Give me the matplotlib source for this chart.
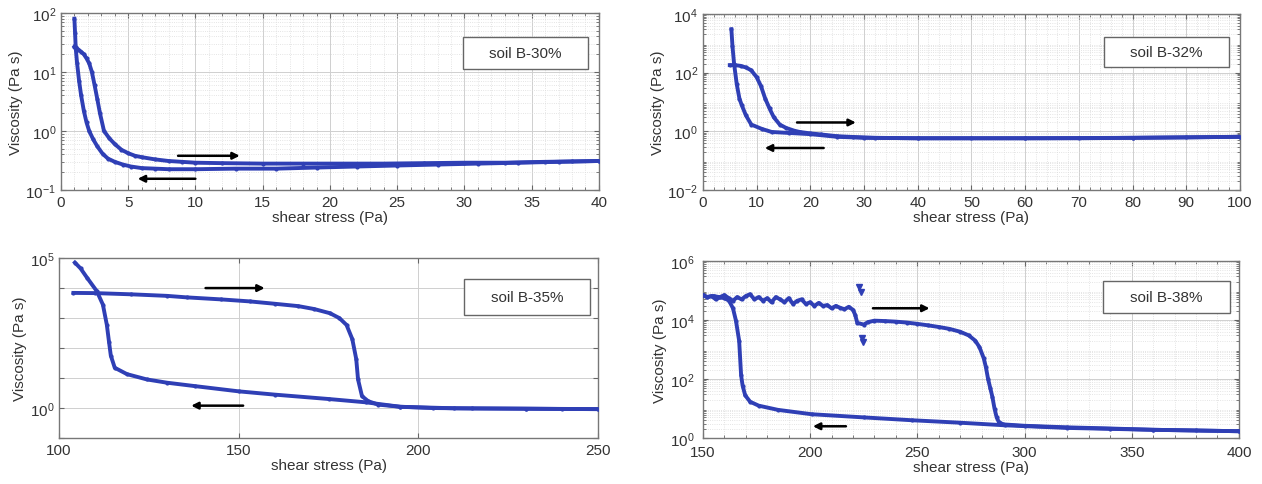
import math
import matplotlib
matplotlib.use("Agg")
import matplotlib.pyplot as plt
from matplotlib.ticker import MultipleLocator, LogLocator, FixedLocator, NullFormatter

plt.rcParams['font.family'] = ['Liberation Sans', 'DejaVu Sans']
plt.rcParams['mathtext.default'] = 'regular'

# ---------------- data ----------------
# soil B-30%
p1_fwd_x = [1.0, 1.1, 1.3, 1.5, 1.7, 1.9, 2.1, 2.3, 2.5, 2.7, 2.9, 3.2, 3.6, 4.0, 4.5, 5.0, 5.5, 6.0, 7.0, 8.0,
            9.0, 10, 12, 15, 18, 21, 24, 27, 30, 33, 36, 38, 40]
p1_fwd_y = [27, 26, 24, 22, 20, 17, 14, 10, 6, 3.5, 2, 1.0, 0.75, 0.6, 0.48, 0.42, 0.38, 0.36, 0.33, 0.31,
            0.3, 0.29, 0.285, 0.28, 0.28, 0.28, 0.28, 0.285, 0.29, 0.29, 0.3, 0.305, 0.31]
p1_bwd_x = [40, 37, 34, 31, 28, 25, 22, 19, 16, 13, 10, 8, 7, 6, 5.2, 4.6, 4.0, 3.5, 3.1, 2.7, 2.4, 2.1,
            1.9, 1.7, 1.5, 1.35, 1.2, 1.1, 1.05, 1.0]
p1_bwd_y = [0.31, 0.3, 0.29, 0.28, 0.27, 0.26, 0.25, 0.24, 0.23, 0.23, 0.225, 0.225, 0.23, 0.235, 0.25, 0.27,
            0.3, 0.34, 0.41, 0.55, 0.72, 1.0, 1.4, 2.2, 4, 7, 14, 25, 45, 80]

# soil B-32%
p2_fwd_x = [5, 6, 7, 8, 9, 10, 10.8, 11.6, 12.4, 13.2, 14.3, 15.5, 17, 18, 20, 22, 25, 28, 32, 40, 50, 60,
            70, 80, 90, 100]
p2_fwd_y = [180, 180, 170, 150, 120, 70, 35, 13, 6, 3, 1.7, 1.3, 1.05, 0.95, 0.85, 0.78, 0.68, 0.64, 0.6,
            0.58, 0.58, 0.58, 0.58, 0.6, 0.62, 0.65]
p2_bwd_x = [100, 80, 60, 40, 30, 25, 20, 16, 12.8, 11, 9.0, 8.0, 7.2, 6.8, 6.3, 5.8, 5.5, 5.3]
p2_bwd_y = [0.65, 0.6, 0.58, 0.58, 0.6, 0.65, 0.8, 0.88, 0.95, 1.2, 1.7, 3.5, 8, 13, 40, 200, 800, 3000]

# soil B-35%
p3_fwd_x = [104, 110, 120, 130, 135.5, 145, 153, 160, 166.6, 171, 175.4, 178, 180, 181.6, 182.7, 183.2,
            184.3, 186, 188.8, 195, 204, 215, 230, 240, 250]
p3_fwd_y = [6900, 6800, 6200, 5500, 4900, 4200, 3600, 3000, 2500, 2000, 1450, 1000, 590, 200, 43, 9,
            2.5, 1.7, 1.3, 1.1, 1.0, 0.97, 0.95, 0.93, 0.92]
p3_bwd_x = [250, 230, 210, 195, 185.4, 175, 160, 150, 137.7, 130, 124.4, 118.9, 115.5, 114.4, 113.9,
            113.3, 112.2, 110.5, 107.8, 106, 104.4]
p3_bwd_y = [0.92, 0.95, 0.98, 1.1, 1.55, 2.0, 2.8, 3.6, 5.4, 7, 9, 13.5, 22, 56, 160, 590, 2800, 7900,
            22000, 45000, 71000]

# soil B-38%
p4_fwd_x = [150, 152, 154, 156, 158, 160, 162, 164, 166, 168, 170, 172, 174, 176, 178, 180, 182, 184, 186,
            188, 190, 192, 194, 196, 198, 200, 202, 204, 206, 208, 210, 212, 214, 216, 218, 220, 221, 222,
            225, 227, 230, 235, 240, 245, 250, 255, 260, 265, 270, 274, 277, 279, 281, 282, 283, 284, 285,
            286, 287, 288, 290, 300, 320, 340, 360, 380, 400]
p4_fwd_y = [70000, 60000, 65000, 50000, 60000, 70000, 55000, 45000, 60000, 50000, 65000, 75000, 50000,
            60000, 45000, 55000, 40000, 60000, 50000, 40000, 55000, 35000, 45000, 50000, 35000, 40000, 30000,
            38000, 30000, 32000, 25000, 30000, 26000, 23000, 28000, 22000, 15000, 8000,
            7000, 8500, 9500, 9200, 8800, 8200, 7400, 6600, 5800, 5000, 4000, 3000, 2000, 1200, 500, 250,
            100, 50, 25, 10, 5, 3.5, 2.9, 2.6, 2.3, 2.1, 1.9, 1.8, 1.7]
p4_out_x = [223, 223.5, 224, 224.5]
p4_out_y = [130000, 90000, 2500, 1800]
p4_bwd_x = [400, 360, 320, 290.8, 270, 247.6, 225, 200.7, 185, 176, 172, 169.7, 168.5, 167.8, 166.9, 165.4,
            164, 162.2, 160, 157.5, 155, 152, 150]
p4_bwd_y = [1.7, 1.9, 2.2, 2.7, 3.3, 4.0, 5.0, 6.4, 9, 12.5, 17, 28, 60, 135, 1950, 9500, 25000, 45000,
            55000, 60000, 65000, 60000, 70000]

labels = ['soil B-30%', 'soil B-32%', 'soil B-35%', 'soil B-38%']

# ---------------- figure ----------------
fig = plt.figure(figsize=(12.62, 4.85), dpi=100)
pos = [[0.0483, 0.6062, 0.4263, 0.365],
       [0.5570, 0.6062, 0.4255, 0.363],
       [0.0468, 0.0948, 0.4271, 0.371],
       [0.5570, 0.0948, 0.4247, 0.365]]
axes = [fig.add_axes(p) for p in pos]

blue = '#2f3fb5'
txtc = '#333333'


def style(ax, xlim, ylim, xmajor, xminor, yticks, ylabels, minor_grid=True, ypad=3.5):
    ax.set_yscale('log')
    ax.set_xlim(*xlim)
    ax.set_ylim(*ylim)
    ax.xaxis.set_major_locator(MultipleLocator(xmajor))
    ax.yaxis.set_major_locator(FixedLocator(yticks))
    ax.yaxis.set_major_formatter(plt.FuncFormatter(
        lambda v, p: (r'$10^{%d}$' % round(math.log10(v)))
        if any(abs(v - t) < 1e-9 * t for t in ylabels) else ''))
    if minor_grid:
        ax.xaxis.set_minor_locator(MultipleLocator(xminor))
        ax.yaxis.set_minor_locator(LogLocator(base=10, subs=range(2, 10), numticks=50))
        ax.yaxis.set_minor_formatter(NullFormatter())
        ax.grid(True, which='minor', color='#dcdcdc', linestyle=':', linewidth=0.6)
    else:
        ax.yaxis.set_minor_locator(FixedLocator([]))
    ax.grid(True, which='major', color='#cfcfcf', linestyle='-', linewidth=0.7)
    ax.set_axisbelow(True)
    ax.tick_params(which='both', direction='in', top=True, right=True, colors='#666666',
                   labelcolor=txtc, labelsize=11)
    ax.tick_params(axis='y', pad=ypad)
    ax.tick_params(which='minor', length=2)
    for s in ax.spines.values():
        s.set_color('#777777')
        s.set_linewidth(1.0)
    ax.set_xlabel('shear stress (Pa)', fontsize=11, color=txtc, labelpad=1)
    ax.set_ylabel('Viscosity (Pa s)', fontsize=11, color=txtc, labelpad=2)


def curve(ax, x, y):
    ax.plot(x, y, '-', color=blue, lw=2.8, marker='.', ms=4, zorder=3)


def arrow(ax, x0, x1, y):
    ax.annotate('', xy=(x1, y), xytext=(x0, y),
                arrowprops=dict(arrowstyle='-|>', color='black', lw=1.8, mutation_scale=10))


def tag(ax, text, box):
    x0, y0, w, h = box
    ax.add_patch(plt.Rectangle((x0, y0), w, h, transform=ax.transAxes, facecolor='white',
                               edgecolor='#666666', lw=1.0, zorder=5))
    ax.text(x0 + w / 2, y0 + h / 2, text, transform=ax.transAxes, ha='center', va='center',
            fontsize=11, color=txtc, zorder=6)


# panel 1
ax = axes[0]
style(ax, (0, 40), (0.1, 100), 5, 1, [0.1, 1, 10, 100], [0.1, 1, 10, 100])
curve(ax, p1_fwd_x, p1_fwd_y)
curve(ax, p1_bwd_x, p1_bwd_y)
arrow(ax, 8.5, 13.5, 0.38)
arrow(ax, 10.2, 5.5, 0.155)
tag(ax, labels[0], (0.747, 0.684, 0.233, 0.18))

# panel 2
ax = axes[1]
style(ax, (0, 100), (0.01, 1e4), 10, 2, [1e-2, 1, 1e2, 1e4], [1e-2, 1, 1e2, 1e4])
curve(ax, p2_fwd_x, p2_fwd_y)
curve(ax, p2_bwd_x, p2_bwd_y)
arrow(ax, 17, 29, 2.0)
arrow(ax, 23, 11, 0.27)
tag(ax, labels[1], (0.746, 0.70, 0.233, 0.17))

# panel 3
ax = axes[2]
style(ax, (100, 250), (0.1, 1e5), 50, 10, [0.1, 1, 10, 100, 1e3, 1e4, 1e5], [1, 1e5], minor_grid=False)
curve(ax, p3_fwd_x, p3_fwd_y)
curve(ax, p3_bwd_x, p3_bwd_y)
arrow(ax, 140, 158, 1.0e4)
arrow(ax, 152, 136, 1.2)
tag(ax, labels[2], (0.751, 0.683, 0.234, 0.20))

# panel 4
ax = axes[3]
style(ax, (150, 400), (1, 1e6), 50, 10, [1, 1e2, 1e4, 1e6], [1, 1e2, 1e4, 1e6], ypad=6)
ax.tick_params(axis='x', pad=5)
curve(ax, p4_fwd_x, p4_fwd_y)
curve(ax, p4_bwd_x, p4_bwd_y)
ax.plot(p4_out_x, p4_out_y, linestyle='none', marker='v', ms=5, color=blue, zorder=3)
arrow(ax, 228, 257, 2.5e4)
arrow(ax, 218, 200, 2.5)
tag(ax, labels[3], (0.746, 0.706, 0.237, 0.18))

fig.savefig('out.png', dpi=100)
